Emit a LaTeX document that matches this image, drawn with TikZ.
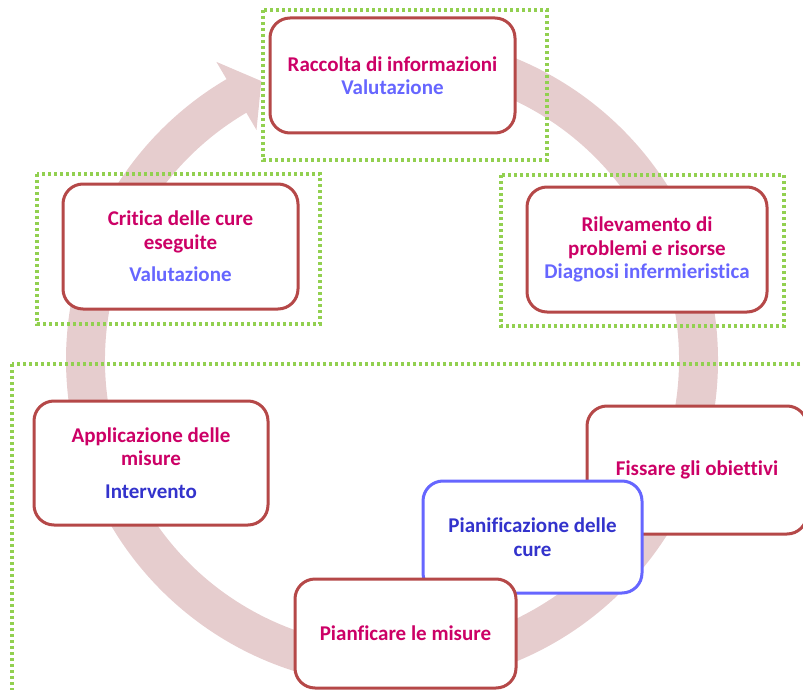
\documentclass[tikz,border=0pt]{standalone}
\usepackage{fontspec}
\setmainfont{Carlito}[Ligatures=NoCommon]
\newlength{\du}
\setlength{\du}{1pt}

\definecolor{ringcolor}{RGB}{230,205,206}
\definecolor{boxline}{RGB}{181,72,72}
\definecolor{planline}{RGB}{102,102,255}
\definecolor{framegreen}{RGB}{146,208,80}
\definecolor{steptext}{RGB}{204,0,102}
\definecolor{phaselight}{RGB}{102,102,255}
\definecolor{phasedark}{RGB}{51,51,204}

\tikzset{
  stepbox/.style={draw=boxline, line width=3\du, rounded corners=20\du, fill=white,
    align=center, inner sep=0pt, font=\bfseries\fontsize{21}{23.5}\selectfont},
  planbox/.style={stepbox, draw=planline},
  groupframe/.style={draw=framegreen, line width=3.2\du, dash pattern=on 3\du off 3\du},
}

\begin{document}
\begin{tikzpicture}
\pgftransformxscale{1.000000}
\pgftransformyscale{-1.000000}
\useasboundingbox (0\du,0\du) rectangle (803\du,690\du);

% ring arrow
\begin{scope}[shift={(392\du,360\du)}]
\fill[ringcolor] (265:326\du) arc[start angle=265, end angle=599.5, radius=326\du]
  -- (599.5:346\du) -- (604.9:308\du) -- (599.5:267\du) -- (599.5:287\du)
  arc[start angle=599.5, end angle=265, radius=287\du] -- cycle;
\end{scope}

% phase frames
\draw[groupframe] (263\du,10\du) rectangle (547\du,160\du);
\draw[groupframe] (37\du,174\du) rectangle (320\du,324\du);
\draw[groupframe] (501\du,175\du) rectangle (784\du,326\du);
\draw[groupframe] (12\du,364\du) rectangle (830\du,720\du);

% steps
\node[stepbox, minimum width=245\du, minimum height=115\du] (raccolta) at (392.5\du,75.5\du)
  {\textcolor{steptext}{Raccolta di informazioni}\\\textcolor{phaselight}{Valutazione}};
\node[stepbox, minimum width=235\du, minimum height=125\du] (critica) at (180.5\du,246.5\du)
  {\textcolor{steptext}{Critica delle cure}\\\textcolor{steptext}{eseguite}\\[9\du]\textcolor{phaselight}{Valutazione}};
\node[stepbox, minimum width=240\du, minimum height=125\du] (rilevamento) at (647\du,249.5\du)
  {\textcolor{steptext}{Rilevamento di}\\\textcolor{steptext}{problemi e risorse}\\\textcolor{phaselight}{Diagnosi infermieristica}};
\node[stepbox, minimum width=234\du, minimum height=124\du] (applicazione) at (151\du,463\du)
  {\textcolor{steptext}{Applicazione delle}\\\textcolor{steptext}{misure}\\[9\du]\textcolor{phasedark}{Intervento}};
\node[stepbox, minimum width=220\du, minimum height=128\du] (obiettivi) at (697\du,470\du)
  {\textcolor{steptext}{Fissare gli obiettivi}};
\node[planbox, minimum width=219\du, minimum height=112\du] (pianificazione) at (532.5\du,537\du)
  {\textcolor{phasedark}{Pianificazione delle}\\\textcolor{phasedark}{cure}};
\node[stepbox, minimum width=221\du, minimum height=109\du] (misure) at (405.5\du,633.5\du)
  {\textcolor{steptext}{Pianficare le misure}};
\end{tikzpicture}
\end{document}
